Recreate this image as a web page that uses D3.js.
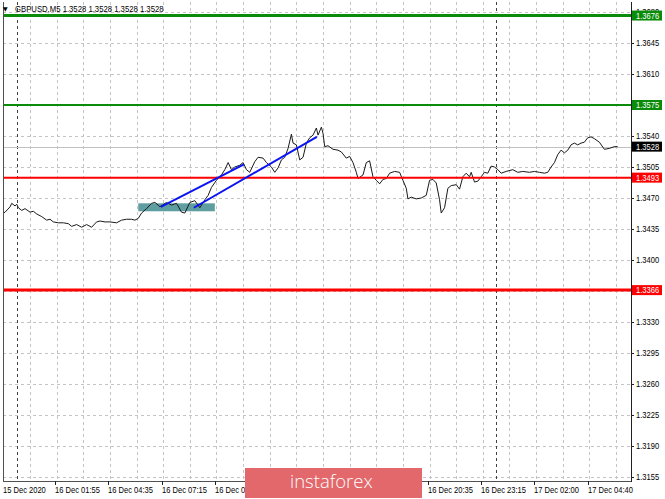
<!DOCTYPE html>
<html><head><meta charset="utf-8">
<script src="https://cdn.jsdelivr.net/npm/d3@7/dist/d3.min.js"></script>
<style>html,body{margin:0;padding:0;background:#fff;overflow:hidden}</style>
</head><body><svg id="c" width="665" height="499"></svg>
<script>
// ---------- data ----------
const symbolTitle = "GBPUSD,M5";
const ohlc = [1.3528, 1.3528, 1.3528, 1.3528];
// bar index (5-minute bars since 15 Dec 23:20) and close price
const bars = [0,1,4,5,7,8,9,11,13,16,18,20,23,26,28,30,33,36,39,41,44,47,50,53,56,58,61,64,68,71,74,77,79,81,83,86,89,91,93,
  94,98,101,104,107,109,112,115,118,121,123,125,128,131,133,135,137,139,142,144,146,148,151,153,156,158,161,163,165,167,169,171,173,174,176,178,180,182,184,186,188,189,191,192,193,
  195,198,201,203,206,208,210,212,213,216,218,220,222,224,226,228,230,232,235,238,240,242,243,245,248,251,254,256,258,260,262,263,265,267,269,272,274,276,278,280,281,283,285,287,
  289,291,293,295,297,299,302,306,309,312,316,319,322,325,327,329,331,333,335,337,339,341,343,345,347,349,351,353,355,358,361,364,367,369];
const prices = [1.3453,1.3454,1.3460,1.3464,1.3461,1.3463,1.3459,1.3456,1.3458,1.3454,1.3455,1.3452,1.3449,1.3445,1.3446,1.3443,1.3442,1.3442,1.3441,1.3438,1.3440,1.3437,1.3440,1.3437,1.3443,1.3444,1.3443,1.3443,1.3442,1.3445,1.3446,1.3446,1.3445,1.3447,1.3453,1.3458,1.3464,1.3465,1.3462,
  1.3460,1.3465,1.3462,1.3464,1.3454,1.3453,1.3465,1.3467,1.3459,1.3468,1.3473,1.3482,1.3490,1.3496,1.3502,1.3510,1.3502,1.3505,1.3507,1.3510,1.3502,1.3499,1.3511,1.3516,1.3515,1.3510,1.3505,1.3499,1.3504,1.3513,1.3516,1.3526,1.3542,1.3532,1.3530,1.3513,1.3516,1.3532,1.3538,1.3541,1.3549,1.3541,1.3550,1.3543,1.3528,
  1.3529,1.3525,1.3524,1.3522,1.3515,1.3517,1.3510,1.3499,1.3492,1.3496,1.3510,1.3512,1.3494,1.3490,1.3486,1.3491,1.3492,1.3498,1.3500,1.3499,1.3490,1.3481,1.3469,1.3471,1.3469,1.3470,1.3473,1.3490,1.3491,1.3487,1.3468,1.3453,1.3459,1.3481,1.3484,1.3485,1.3480,1.3494,1.3498,1.3494,1.3499,1.3488,1.3489,1.3494,
  1.3499,1.3498,1.3506,1.3505,1.3502,1.3498,1.3500,1.3502,1.3499,1.3500,1.3499,1.3500,1.3499,1.3498,1.3499,1.3505,1.3510,1.3519,1.3524,1.3521,1.3524,1.3530,1.3532,1.3530,1.3532,1.3533,1.3538,1.3539,1.3537,1.3533,1.3525,1.3526,1.3528,1.3528];
const timeLabels = ["15 Dec 2020","16 Dec 01:55","16 Dec 04:35","16 Dec 07:15","16 Dec 09:55","16 Dec 12:35","16 Dec 15:15","16 Dec 17:55","16 Dec 20:35","16 Dec 23:15","17 Dec 02:00","17 Dec 04:40"];
const timeLabelBars = [0,31,63,95,127,159,191,223,255,287,319,351];
const daySeparatorBars = [8, 296];
const priceTicks = [1.3155,1.3190,1.3225,1.3260,1.3295,1.3330,1.3365,1.3400,1.3435,1.3470,1.3505,1.3540,1.3575,1.3610,1.3645,1.3680];
const levelPrices = [1.3676, 1.3575, 1.3493, 1.3366];
const bidPrice = 1.3528;
const zoneBars = [81, 127];
const zonePrices = [1.3455, 1.3464];
const trend1Bars = [94.6, 144.5], trend1Prices = [1.3460, 1.3508];
const trend2Bars = [114.4, 188.3], trend2Prices = [1.3459, 1.3539];
const logoText = "instaforex";

// ---------- styles ----------
const levelStyle = [
  {color:"#0a8c0a", w:3}, {color:"#0a8c0a", w:2}, {color:"#ff0000", w:2}, {color:"#ff0000", w:3}
];
const L = 3, R = 631, T = 2, B = 481;
const FONT = "'Liberation Sans', Arial, sans-serif";
const SX = 0.84;
const LOGO = {x:245, y:468, w:177, h:30};

const svg = d3.select("#c");
const x = d3.scaleLinear().domain([0, 377]).range([3.4, 631]);
const y = d3.scaleLinear().domain([1.3155, 1.3645]).range([477, 43]);

svg.append("defs").append("clipPath").attr("id","plot")
  .append("rect").attr("x",L).attr("y",T).attr("width",R-L).attr("height",B-T);

const g = svg.append("g").attr("clip-path","url(#plot)");

// grid
const gridBars = d3.range(16, 377, 16);
g.selectAll(".vg").data(gridBars).join("line")
  .attr("x1",d=>Math.round(x(d))+0.5).attr("x2",d=>Math.round(x(d))+0.5)
  .attr("y1",T).attr("y2",B).attr("stroke","#c4c4c4").attr("stroke-dasharray","3,3");
g.selectAll(".hg").data(priceTicks).join("line")
  .attr("x1",L).attr("x2",R).attr("y1",d=>Math.round(y(d))+0.5).attr("y2",d=>Math.round(y(d))+0.5)
  .attr("stroke","#c4c4c4").attr("stroke-dasharray","3,3");
g.selectAll(".ds").data(daySeparatorBars).join("line")
  .attr("x1",d=>Math.round(x(d))+0.5).attr("x2",d=>Math.round(x(d))+0.5)
  .attr("y1",T).attr("y2",B).attr("stroke","#404040").attr("stroke-dasharray","3,3");

// bid line
g.append("line").attr("x1",L).attr("x2",R)
  .attr("y1",Math.round(y(bidPrice))+0.5).attr("y2",Math.round(y(bidPrice))+0.5)
  .attr("stroke","#c0c0c0");

// zone rectangle
g.append("rect").attr("x",x(zoneBars[0])).attr("width",x(zoneBars[1])-x(zoneBars[0]))
  .attr("y",y(zonePrices[1])).attr("height",y(zonePrices[0])-y(zonePrices[1]))
  .attr("fill","#5f9ea0");

// price line
const series = bars.map((b,i)=>[b,prices[i]]);
g.append("path").datum(series)
  .attr("d", d3.line().x(d=>x(d[0])).y(d=>y(d[1])))
  .attr("fill","none").attr("stroke","#1a1a1a").attr("stroke-width",1);

// level lines
g.selectAll(".lv").data(levelPrices).join("line")
  .attr("x1",L).attr("x2",R).attr("y1",d=>y(d)).attr("y2",d=>y(d))
  .attr("stroke",(d,i)=>levelStyle[i].color).attr("stroke-width",(d,i)=>levelStyle[i].w);

// trend lines
[[trend1Bars,trend1Prices],[trend2Bars,trend2Prices]].forEach(([bb,pp])=>{
  g.append("line").attr("x1",x(bb[0])).attr("y1",y(pp[0])).attr("x2",x(bb[1])).attr("y2",y(pp[1]))
   .attr("stroke","#0a14f0").attr("stroke-width",2);
});

// borders
svg.append("line").attr("x1",L+0.5).attr("x2",L+0.5).attr("y1",T).attr("y2",B).attr("stroke","#505050");
svg.append("line").attr("x1",L).attr("x2",R).attr("y1",B+0.5).attr("y2",B+0.5).attr("stroke","#505050");
svg.append("line").attr("x1",R+0.5).attr("x2",R+0.5).attr("y1",T).attr("y2",B+1).attr("stroke","#202020");

// right axis (the top tick label sits behind the 1.3676 tag, as in the terminal)
const ra = svg.append("g");
ra.selectAll(".rt").data(priceTicks).join("line")
  .attr("x1",R).attr("x2",R+3).attr("y1",d=>Math.round(y(d))+0.5).attr("y2",d=>Math.round(y(d))+0.5).attr("stroke","#202020");
ra.selectAll(".rl").data(priceTicks).join("text")
  .attr("transform",d=>`translate(636,${y(d)+3.3}) scale(${SX},1)`)
  .attr("font-family",FONT).attr("font-size",9).attr("fill","#000")
  .text(d=>d.toFixed(4));

// colored labels
const tags = levelPrices.map((p,i)=>({p, c:levelStyle[i].color}));
tags.push({p:bidPrice, c:"#000"});
const tg = svg.selectAll(".tag").data(tags).join("g");
tg.append("rect").attr("x",632).attr("width",30).attr("y",d=>y(d.p)-5).attr("height",10).attr("fill",d=>d.c);
tg.append("text").attr("transform",d=>`translate(636,${y(d.p)+3.3}) scale(${SX},1)`)
  .attr("font-family",FONT).attr("font-size",9).attr("fill","#fff").text(d=>d.p.toFixed(4));

// bottom axis: labels that fall fully under the logo stamp are not visible in the original
const tickData = timeLabels.map((t,i)=>({t, b:timeLabelBars[i], px: i===0 ? 3 : Math.round(x(timeLabelBars[i]))}))
  .filter(d => !(d.px > LOGO.x && d.px < LOGO.x + LOGO.w));
const ba = svg.append("g");
ba.selectAll(".bt").data(tickData.filter(d=>d.b>0)).join("line")
  .attr("x1",d=>d.px+0.5).attr("x2",d=>d.px+0.5).attr("y1",B).attr("y2",B+4).attr("stroke","#202020");
ba.selectAll(".bl").data(tickData).join("text")
  .attr("transform",d=>`translate(${d.px},493) scale(${SX},1)`)
  .attr("font-family",FONT).attr("font-size",9).attr("fill","#000").text(d=>d.t);

// title
svg.append("text").attr("x",3).attr("y",11).attr("font-family","'DejaVu Sans', sans-serif").attr("font-size",6).attr("fill","#000").text("▼");
svg.append("text").attr("transform",`translate(15,11.5) scale(0.86,1)`)
  .attr("font-family",FONT).attr("font-size",9).attr("fill","#000")
  .text(symbolTitle + "  " + ohlc.map(v=>v.toFixed(4)).join(" "));

// logo
svg.append("rect").attr("x",LOGO.x).attr("y",LOGO.y).attr("width",LOGO.w).attr("height",LOGO.h).attr("fill","#e2686b");
svg.append("text").attr("x",290).attr("y",488).attr("font-family","'Open Sans', sans-serif")
  .attr("font-size",18.5).attr("font-weight",300).attr("fill","#fff").text(logoText);
</script></body></html>
